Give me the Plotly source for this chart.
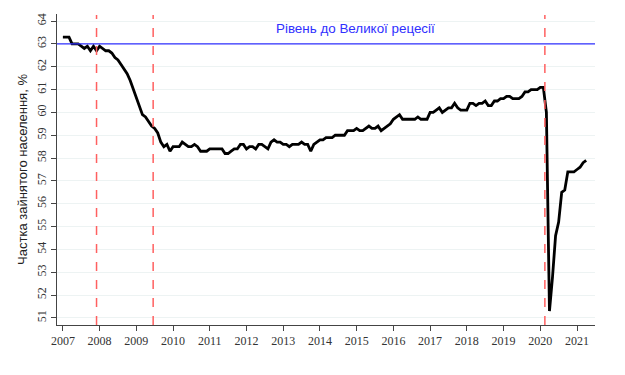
import plotly.graph_objects as go

start_year = 2007
epop_2007 = [63.3, 63.3, 63.3, 63.0, 63.0, 63.0, 62.9, 62.8, 62.9, 62.7, 62.9, 62.7]
epop_2008 = [62.9, 62.8, 62.7, 62.7, 62.6, 62.4, 62.3, 62.1, 61.9, 61.7, 61.4, 61.0]
epop_2009 = [60.6, 60.3, 59.9, 59.8, 59.6, 59.4, 59.3, 59.1, 58.7, 58.5, 58.6, 58.3]
epop_2010 = [58.5, 58.5, 58.5, 58.7, 58.6, 58.5, 58.5, 58.6, 58.5, 58.3, 58.3, 58.3]
epop_2011 = [58.4, 58.4, 58.4, 58.4, 58.4, 58.2, 58.2, 58.3, 58.4, 58.4, 58.6, 58.6]
epop_2012 = [58.4, 58.5, 58.5, 58.4, 58.6, 58.6, 58.5, 58.4, 58.7, 58.8, 58.7, 58.7]
epop_2013 = [58.6, 58.6, 58.5, 58.6, 58.6, 58.6, 58.7, 58.6, 58.6, 58.3, 58.6, 58.7]
epop_2014 = [58.8, 58.8, 58.9, 58.9, 58.9, 59.0, 59.0, 59.0, 59.0, 59.2, 59.2, 59.2]
epop_2015 = [59.3, 59.2, 59.2, 59.3, 59.4, 59.3, 59.3, 59.4, 59.2, 59.3, 59.4, 59.5]
epop_2016 = [59.7, 59.8, 59.9, 59.7, 59.7, 59.7, 59.7, 59.7, 59.8, 59.7, 59.7, 59.7]
epop_2017 = [60.0, 60.0, 60.1, 60.2, 60.0, 60.1, 60.2, 60.2, 60.4, 60.2, 60.1, 60.1]
epop_2018 = [60.1, 60.4, 60.4, 60.3, 60.4, 60.4, 60.5, 60.3, 60.3, 60.5, 60.5, 60.6]
epop_2019 = [60.6, 60.7, 60.7, 60.6, 60.6, 60.6, 60.7, 60.9, 60.9, 61.0, 61.0, 61.0]
epop_2020 = [61.1, 61.1, 60.0, 51.3, 52.8, 54.6, 55.2, 56.5, 56.6, 57.4, 57.4, 57.4]
epop_2021 = [57.5, 57.6, 57.8, 57.9]

recession_marks = [2007 + 11 / 12, 2009 + 5.5 / 12, 2020 + 1.5 / 12]
pre_recession_level = 63
pre_recession_label = "Рівень до Великої рецесії"
y_title = "Частка зайнятого населення, %"
year_ticks = list(range(2007, 2022))
y_ticks = list(range(51, 65))

values = (epop_2007 + epop_2008 + epop_2009 + epop_2010 + epop_2011 + epop_2012 +
          epop_2013 + epop_2014 + epop_2015 + epop_2016 + epop_2017 + epop_2018 +
          epop_2019 + epop_2020 + epop_2021)
xs = [start_year + i / 12 for i in range(len(values))]

fig = go.Figure()
fig.add_trace(go.Scatter(x=xs, y=values, mode="lines",
                         line=dict(color="black", width=2.8), showlegend=False,
                         hoverinfo="skip"))

fig.add_shape(type="line", xref="paper", x0=0, x1=1, yref="y",
              y0=pre_recession_level, y1=pre_recession_level,
              line=dict(color="#3030ff", width=1.2))
for xm in recession_marks:
    fig.add_shape(type="line", xref="x", x0=xm, x1=xm, yref="paper", y0=0, y1=0.997,
                  line=dict(color="#ff6060", width=1.5, dash="dash"))

fig.add_annotation(x=2014.96, y=63.66, xref="x", yref="y", text=pre_recession_label,
                   showarrow=False, font=dict(family="Liberation Sans, Arial", size=13.4,
                                              color="#3030ff"))

fig.update_layout(
    width=625, height=375,
    margin=dict(l=49, r=38, t=6, b=58),
    plot_bgcolor="white", paper_bgcolor="white",
    xaxis=dict(range=[2006.84, 2021.49], tickvals=year_ticks,
               ticktext=[str(y) for y in year_ticks], automargin=False,
               showgrid=False, zeroline=False,
               showline=True, linecolor="#444", linewidth=1,
               ticks="outside", ticklen=5, tickcolor="#444",
               tickfont=dict(family="Liberation Serif, Times New Roman", size=12,
                             color="#333")),
    yaxis=dict(range=[50.69, 64.31], tickvals=y_ticks, automargin=False,
               showgrid=True, gridcolor="#edf3f3", gridwidth=1, zeroline=False,
               showline=True, linecolor="#444", linewidth=1,
               ticks="outside", ticklen=5, tickcolor="#444", tickangle=-90,
               tickfont=dict(family="Liberation Serif, Times New Roman", size=12,
                             color="#333"),
               title=dict(text=y_title, standoff=4,
                          font=dict(family="Liberation Sans, Arial", size=13,
                                    color="#222"))),
)

fig.write_html("out.html")
